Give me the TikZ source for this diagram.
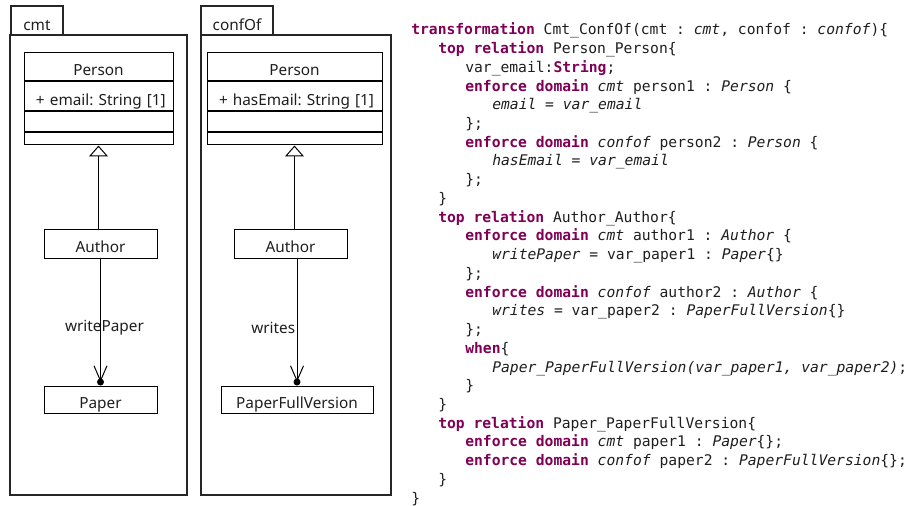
\documentclass[tikz,border=0pt]{standalone}
\usepackage{fontspec}
\setmainfont{Noto Sans}
\setmonofont{DejaVu Sans Mono}
\usetikzlibrary{arrows.meta,positioning}
\definecolor{kwcolor}{RGB}{127,0,85}
\definecolor{inkcolor}{RGB}{30,30,30}
\newcommand{\qkw}[1]{\textcolor{kwcolor}{\textbf{#1}}}
\newcommand{\qit}[1]{\textit{#1}}
\frenchspacing

\begin{document}
\begin{tikzpicture}[x=0.75pt,y=-0.75pt]
      \tikzstyle{pkg}=[rectangle, draw=black!85, line width=1pt, inner sep=0pt]
      \tikzstyle{pkgtab}=[pkg, font=\fontsize{11.5}{13}\selectfont, text=inkcolor, text height=15pt, text depth=0pt]
      \tikzstyle{cls}=[rectangle, draw=black, line width=0.75pt, inner sep=0pt, font=\fontsize{11.5}{13}\selectfont, text=inkcolor, text height=13pt, text depth=0pt]
      \tikzstyle{attr}=[cls, align=left, inner xsep=9pt]
      \tikzstyle{lbl}=[inner sep=1pt, font=\fontsize{11.5}{13}\selectfont, text=inkcolor]
      \tikzstyle{generalize}=[-{Triangle[open, length=8.25pt, width=14.25pt]}, line width=0.75pt]
      \tikzstyle{assoc}=[-{Straight Barb[length=11.25pt, width=9.75pt]}, line width=0.75pt]
      \tikzstyle{dot}=[circle, fill=black, inner sep=0pt, minimum size=5.25pt]
      \tikzstyle{code}=[anchor=base west, inner sep=0pt, font=\ttfamily\fontsize{11}{14}\selectfont, text=inkcolor]

      \useasboundingbox (0,0) rectangle (907,506);

      % cmt package
      \node[pkg, minimum width=132.75pt, minimum height=345pt] (cmt) at (98.5,265) {};
      \node[pkgtab, minimum width=39pt, minimum height=21.75pt] (cmttab) at (37,20.5) {cmt};

      \node[cls, minimum width=111.75pt, minimum height=21pt] (person1) at (98.5,67) {Person};
      \node[attr, text width=93.75pt, minimum height=21.75pt, below=0pt of person1] (person1attr) {\mbox{+ email: String [1]}};
      \node[cls, minimum width=111.75pt, minimum height=15pt, text height=0pt, below=0pt of person1attr] (person1ops) {};
      \node[cls, minimum width=111.75pt, minimum height=9pt, text height=0pt, below=0pt of person1ops] (person1ext) {};

      \node[cls, minimum width=84.75pt, minimum height=21pt] (author1) at (100.5,244) {Author};
      \node[cls, minimum width=84.75pt, minimum height=20.25pt] (paper1) at (100.5,399.5) {Paper};
      \node[dot] (dot1) at ([yshift=2.6pt]paper1.north) {};

      \draw[generalize] (person1ext.south |- author1.north) -- (person1ext.south);
      \draw[assoc] (dot1 |- author1.south) -- node[lbl, pos=0.56, xshift=3pt] (wp) {writePaper} (dot1.center);

      % confOf package
      \node[pkg, minimum width=142.5pt, minimum height=345pt] (confof) at (296,265) {};
      \node[pkgtab, minimum width=54pt, minimum height=21.75pt] (confoftab) at (237,20.5) {confOf};

      \node[cls, minimum width=131.25pt, minimum height=21pt] (person2) at (294.5,67) {Person};
      \node[attr, text width=113.25pt, minimum height=21.75pt, below=0pt of person2] (person2attr) {\mbox{+ hasEmail: String [1]}};
      \node[cls, minimum width=131.25pt, minimum height=15pt, text height=0pt, below=0pt of person2attr] (person2ops) {};
      \node[cls, minimum width=131.25pt, minimum height=9pt, text height=0pt, below=0pt of person2ops] (person2ext) {};

      \node[cls, minimum width=84.75pt, minimum height=21pt] (author2) at (290.5,244) {Author};
      \node[cls, minimum width=114pt, minimum height=20.25pt] (paper2) at (297,399.5) {PaperFullVersion};
      \node[dot] (dot2) at ([yshift=2.6pt]paper2.north) {};

      \draw[generalize] (person2ext.south |- author2.north) -- (person2ext.south);
      \draw[assoc] (dot2 |- author2.south) -- node[lbl, pos=0.56, left] (wr) {writes} (dot2.center);

      % QVT code
      \node[code] (c0) at (411,35) {\qkw{transformation} Cmt\_ConfOf(cmt : \qit{cmt}, confof : \qit{confof})\{};
      \node[code] (c1) at (438,53.7) {\qkw{top} \qkw{relation} Person\_Person\{};
      \node[code] (c2) at (465,72.4) {var\_email:\qkw{String};};
      \node[code] (c3) at (465,91.2) {\qkw{enforce} \qkw{domain} \qit{cmt} person1 : \qit{Person} \{};
      \node[code] (c4) at (492,109.9) {\qit{email = var\_email}};
      \node[code] (c5) at (465,128.6) {\};};
      \node[code] (c6) at (465,147.3) {\qkw{enforce} \qkw{domain} \qit{confof} person2 : \qit{Person} \{};
      \node[code] (c7) at (492,166) {\qit{hasEmail = var\_email}};
      \node[code] (c8) at (465,184.8) {\};};
      \node[code] (c9) at (438,203.5) {\}};
      \node[code] (c10) at (438,222.2) {\qkw{top} \qkw{relation} Author\_Author\{};
      \node[code] (c11) at (465,240.9) {\qkw{enforce} \qkw{domain} \qit{cmt} author1 : \qit{Author} \{};
      \node[code] (c12) at (492,259.6) {\qit{writePaper} = var\_paper1 : \qit{Paper}\{\}};
      \node[code] (c13) at (465,278.4) {\};};
      \node[code] (c14) at (465,297.1) {\qkw{enforce} \qkw{domain} \qit{confof} author2 : \qit{Author} \{};
      \node[code] (c15) at (492,315.8) {\qit{writes} = var\_paper2 : \qit{PaperFullVersion}\{\}};
      \node[code] (c16) at (465,334.5) {\};};
      \node[code] (c17) at (465,353.2) {\qkw{when}\{};
      \node[code] (c18) at (492,372) {\qit{Paper\_PaperFullVersion(var\_paper1, var\_paper2)};};
      \node[code] (c19) at (465,390.7) {\}};
      \node[code] (c20) at (438,409.4) {\}};
      \node[code] (c21) at (438,428.1) {\qkw{top} \qkw{relation} Paper\_PaperFullVersion\{};
      \node[code] (c22) at (465,446.8) {\qkw{enforce} \qkw{domain} \qit{cmt} paper1 : \qit{Paper}\{\};};
      \node[code] (c23) at (465,465.6) {\qkw{enforce} \qkw{domain} \qit{confof} paper2 : \qit{PaperFullVersion}\{\};};
      \node[code] (c24) at (438,484.3) {\}};
      \node[code] (c25) at (411,503) {\}};
\end{tikzpicture}
\end{document}
